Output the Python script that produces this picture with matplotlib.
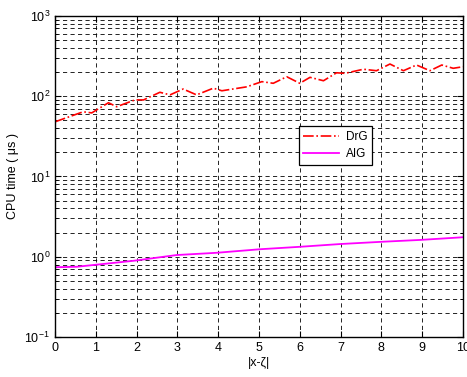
import matplotlib
matplotlib.use("Agg")
import matplotlib.pyplot as plt
import numpy as np

plt.rcParams['font.family'] = ['Liberation Sans', 'DejaVu Sans']

# CPU time samples (microseconds) against |x-zeta|
drg_x = [0.0, 0.37, 0.69, 0.9, 1.31, 1.51, 1.96, 2.17, 2.57, 2.82, 3.14, 3.47,
         3.88, 4.09, 4.70, 5.07, 5.35, 5.68, 6.0, 6.25, 6.58, 6.9, 7.11, 7.56,
         7.88, 8.21, 8.54, 8.86, 9.19, 9.48, 9.76, 10.0]
drg_t = [48, 56, 64, 62, 83, 74, 90, 90, 112, 104, 123, 104,
         126, 117, 131, 152, 145, 175, 145, 172, 156, 196, 193, 217,
         208, 252, 208, 245, 208, 245, 223, 233]

aig_x = [0.0, 0.53, 1.92, 2.98, 3.96, 5.02, 6.0, 6.99, 8.05, 8.95, 10.0]
aig_t = [0.74, 0.75, 0.89, 1.05, 1.12, 1.24, 1.33, 1.44, 1.54, 1.62, 1.75]

x_ticks = list(range(0, 11))

fig = plt.figure(figsize=(4.67, 3.77), dpi=100)
ax = fig.add_axes([0.1178, 0.1061, 0.8736, 0.8515])

ax.semilogy(drg_x, drg_t, color='red', linestyle='-.', linewidth=1.2, label='DrG')
ax.semilogy(aig_x, aig_t, color='magenta', linestyle='-', linewidth=1.3, label='AIG')

ax.set_xlim(0, 10)
ax.set_ylim(1e-1, 1e3)
ax.set_xticks(x_ticks)
ax.set_xticklabels([str(v) for v in x_ticks])

ax.grid(True, which='major', linestyle=(0, (5, 4)), color='black', linewidth=0.6)
ax.grid(True, which='minor', axis='y', linestyle=(0, (5, 4)), color='black', linewidth=0.6)

ax.tick_params(which='both', direction='in', top=True, right=True, labelsize=9)
ax.tick_params(which='major', length=4)
ax.tick_params(which='minor', length=2)
for s in ax.spines.values():
    s.set_linewidth(1.0)

ax.set_xlabel('|x-ζ|', fontsize=9, labelpad=2)
ax.set_ylabel('CPU time ( μs )', fontsize=9, labelpad=4)

leg = ax.legend(loc='upper left', bbox_to_anchor=(0.583, 0.675), fontsize=8.5,
                frameon=True, fancybox=False, edgecolor='black', framealpha=1,
                handlelength=3.0, handletextpad=0.6, borderpad=0.4, labelspacing=0.45)
leg.get_frame().set_linewidth(0.9)

fig.savefig('out.png', dpi=100)
